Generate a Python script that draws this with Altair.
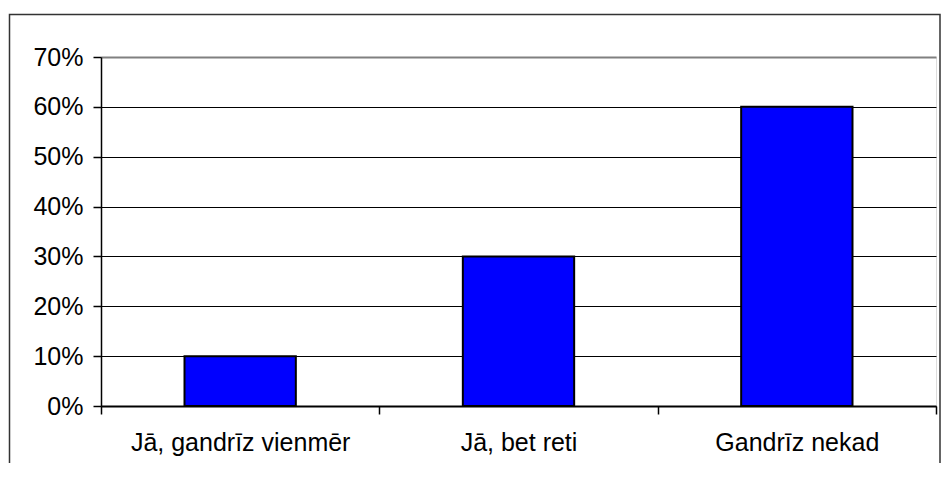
import altair as alt
import pandas as pd

categories = ["Jā, gandrīz vienmēr", "Jā, bet reti", "Gandrīz nekad"]
shares = [0.10, 0.30, 0.60]
y_ticks = [0, 0.1, 0.2, 0.3, 0.4, 0.5, 0.6, 0.7]

df = pd.DataFrame({"category": categories, "share": shares})

FONT = "Liberation Sans"

x_enc = alt.X(
    "category:N",
    sort=categories,
    scale=alt.Scale(paddingInner=0, paddingOuter=0),
    axis=alt.Axis(
        title=None,
        labelAngle=0,
        labelFont=FONT,
        labelFontSize=25,
        labelColor="black",
        labelPadding=16,
        labelLimit=400,
        tickBand="extent",
        tickColor="black",
        tickWidth=1.5,
        tickSize=8,
        domainColor="black",
        domainWidth=2,
        grid=False,
    ),
)

y_enc = alt.Y(
    "share:Q",
    scale=alt.Scale(domain=[0, 0.7], nice=False),
    axis=alt.Axis(
        title=None,
        values=y_ticks,
        format=".0%",
        labelFont=FONT,
        labelFontSize=25,
        labelColor="black",
        labelPadding=10,
        tickColor="black",
        tickWidth=1.5,
        tickSize=8,
        domainColor="black",
        domainWidth=1.5,
        grid=True,
        gridColor={"condition": {"test": "datum.value >= 0.7", "value": "#808080"}, "value": "black"},
        gridWidth={"condition": {"test": "datum.value >= 0.7", "value": 2}, "value": 1},
    ),
)

bars = alt.Chart(df).mark_bar(
    width=alt.RelativeBandSize(0.4),
    color="#0000FF",
    stroke="black",
    strokeWidth=2,
).encode(x=x_enc, y=y_enc)

frame = alt.Chart(alt.Data(values=[{"f": 1}])).mark_rect(
    filled=False, stroke="#333333", strokeWidth=1.5, clip=False
).encode(
    x=alt.value(-91.5), x2=alt.value(839), y=alt.value(-42.5), y2=alt.value(470)
)

chart = alt.layer(bars, frame).properties(
    width=835,
    height=349,
    autosize=alt.AutoSizeParams(type="none"),
    padding={"left": 93, "top": 49, "right": 5, "bottom": 57},
).configure_view(stroke="#808080", strokeWidth=2).configure(background="white")

chart.save("out.html", embed_options={"renderer": "svg", "actions": False})
